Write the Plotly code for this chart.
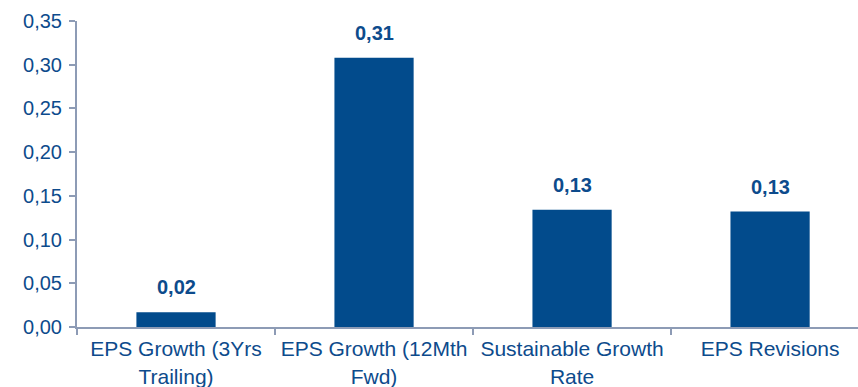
import plotly.graph_objects as go

categories = ["EPS Growth (3Yrs<br>Trailing)", "EPS Growth (12Mth<br>Fwd)", "Sustainable Growth<br>Rate", "EPS Revisions"]
values = [0.017, 0.308, 0.134, 0.132]
labels = ["0,02", "0,31", "0,13", "0,13"]
y_ticks = [0, 0.05, 0.10, 0.15, 0.20, 0.25, 0.30, 0.35]

BAR = "#024B8C"
TXT = "#0D4B8C"
AX = "#8D9BB5"
FONT = "Liberation Sans, Arial, sans-serif"

fig = go.Figure(go.Bar(x=categories, y=values, marker=dict(color=BAR, line=dict(width=0)), width=0.4))

for c, v, t in zip(categories, values, labels):
    fig.add_annotation(x=c, y=v, text="<b>%s</b>" % t, showarrow=False, yanchor="bottom", yshift=12,
                       font=dict(family=FONT, size=20, color=TXT))

fig.update_layout(
    width=858, height=387,
    margin=dict(l=77, r=0, t=21, b=60),
    plot_bgcolor="white", paper_bgcolor="white",
    separators=",.",
    showlegend=False,
    font=dict(family=FONT, color=TXT),
)
fig.update_xaxes(
    range=[-0.5, 3.444], showgrid=False, showline=True, linecolor=AX, linewidth=2,
    ticks="outside", tickson="boundaries", ticklen=6, tickcolor=AX, tickwidth=2,
    tickfont=dict(family=FONT, size=21, color=TXT), ticklabelstandoff=2,
)
fig.update_yaxes(
    range=[0, 0.35], tickvals=y_ticks, tickformat=".2f", showgrid=False, zeroline=False,
    showline=True, linecolor=AX, linewidth=2, ticks="outside", ticklen=6, tickcolor=AX, tickwidth=2,
    tickfont=dict(family=FONT, size=20, color=TXT), ticklabelstandoff=3,
)

fig.write_html("out.html")
